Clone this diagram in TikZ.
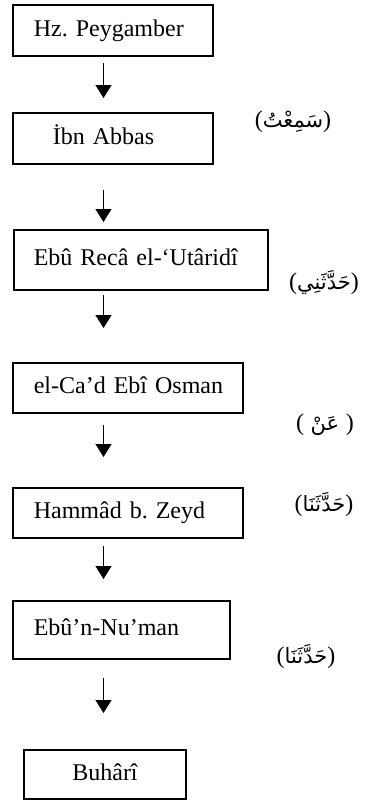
\documentclass[tikz,border=0pt]{standalone}
\usepackage{fontspec}
\setmainfont{Liberation Serif}
\newfontfamily\arabicfont[Script=Arabic]{DejaVu Sans}
\TeXXeTstate=1
\usetikzlibrary{arrows.meta}
\newcommand{\rivaye}[1]{({\arabicfont\fontsize{10.5}{12}\selectfont\beginR #1\endR})}

\begin{document}
\begin{tikzpicture}[x=0.5pt,y=-0.5pt,font=\fontsize{12}{14}\selectfont\frenchspacing,
	ravi/.style={draw,line width=0.8pt,anchor=west,align=left,inner xsep=0pt,text height=8pt,text depth=2.5pt},
	nakil/.style={line width=0.6pt,-{Triangle[length=6.5pt,width=8pt]}}]
	\useasboundingbox (0,0) rectangle (379,810);
	
	\node[ravi,text width=100pt,minimum height=25.5pt] at (12,30.5)(1){\hspace*{10.5pt}Hz. Peygamber};
	\node[ravi,text width=100pt,minimum height=25.5pt] at (12,138.5)(2){\hspace*{20pt}İbn Abbas};
	\node[ravi,text width=127pt,minimum height=30pt] at (13,260)(3){\hspace*{10pt}Ebû Recâ el-‘Utâridî};
	\node[ravi,text width=115pt,minimum height=25pt] at (12,388)(4){\hspace*{10.5pt}el-Ca’d Ebî Osman};
	\node[ravi,text width=115pt,minimum height=25pt] at (12,513)(5){\hspace*{10.5pt}Hammâd b. Zeyd};
	\node[ravi,text width=108.5pt,minimum height=29pt] at (12,630)(6){\hspace*{10.5pt}Ebû’n-Nu’man};
	\node[ravi,anchor=center,align=center,text width=81pt,minimum height=24.5pt] at (105,774.5)(7){Buhârî};
	
	\node at (293,122)(r1){\rivaye{سَمِعْتُ}};
	\node at (324,283)(r2){\rivaye{حَدَّثَنِي}};
	\node at (325,425)(r3){\rivaye{ عَنْ }};
	\node at (324,505)(r4){\rivaye{حَدَّثَنَا}};
	\node at (306,657)(r5){\rivaye{حَدَّثَنَا}};
	
	\coordinate (o1a) at (103.5,63);  \coordinate (o1b) at (103.5,98);
	\coordinate (o2a) at (103.5,190); \coordinate (o2b) at (103.5,222);
	\coordinate (o3a) at (103.5,295); \coordinate (o3b) at (103.5,328);
	\coordinate (o4a) at (103.5,425); \coordinate (o4b) at (103.5,457);
	\coordinate (o5a) at (103.5,546); \coordinate (o5b) at (103.5,579);
	\coordinate (o6a) at (103.5,678); \coordinate (o6b) at (103.5,713);
	\draw[nakil] (o1a)--(o1b);
	\draw[nakil] (o2a)--(o2b);
	\draw[nakil] (o3a)--(o3b);
	\draw[nakil] (o4a)--(o4b);
	\draw[nakil] (o5a)--(o5b);
	\draw[nakil] (o6a)--(o6b);
\end{tikzpicture}
\end{document}
